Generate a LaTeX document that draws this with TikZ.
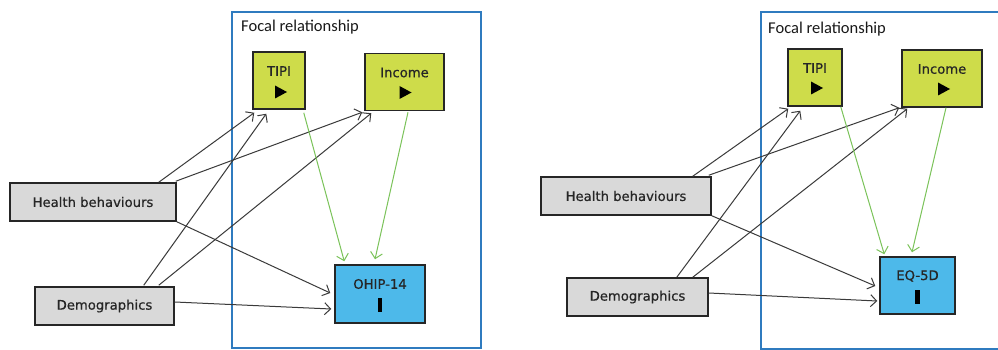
\documentclass[tikz,border=0pt]{standalone}
\usepackage{fontspec}
\setmainfont{DejaVu Sans}
\newfontfamily\titlefont{Carlito}
\newfontfamily\boxfont[FakeBold=0.6]{DejaVu Sans}
\usetikzlibrary{arrows.meta}
\definecolor{framecol}{HTML}{2F7BBF}
\definecolor{limefill}{HTML}{CEDC4A}
\definecolor{skyfill}{HTML}{4DB9EA}
\definecolor{greyfill}{HTML}{D9D9D9}
\definecolor{linkcol}{HTML}{3A3A3A}
\definecolor{focalcol}{HTML}{7BC35A}
\definecolor{labelcol}{HTML}{262626}
\tikzset{
  frame/.style={draw=framecol, line width=1.3pt, inner sep=0pt},
  framelabel/.style={anchor=west, inner sep=0pt, font=\titlefont\fontsize{16.5}{18}\selectfont, text=black!90},
  box/.style={draw=black!85, line width=1.5pt, inner sep=0pt},
  covar/.style={box, fill=greyfill, minimum height=38pt},
  expo/.style={box, fill=limefill, minimum height=57pt},
  outc/.style={box, fill=skyfill, minimum height=57pt},
  boxtext/.style={inner sep=0pt, text=labelcol, font=\boxfont\fontsize{13.2}{15}\selectfont},
  link/.style={draw=linkcol, line width=1pt, -{Straight Barb[length=6pt,width=12pt,line width=1pt]}},
  focallink/.style={draw=focalcol, line width=1pt, -{Straight Barb[length=6pt,width=12pt,line width=1pt]}},
  playmark/.style={fill=black},
}
\begin{document}
\begin{tikzpicture}[x=1pt,y=-1pt]
\clip (0,0) rectangle (998,350);
\fill[white] (0,0) rectangle (998,350);

% ---------------- left model: OHIP-14 ----------------
\node[frame, minimum width=249pt, minimum height=336pt] (fL) at (356.5,180) {};
\node[framelabel] (fLt) at (241,27) {Focal relationship};

\node[covar, minimum width=166pt] (hbL) at (93,202) {};
\node[boxtext] at (hbL.center) {Health behaviours};
\node[covar, minimum width=139pt] (dmL) at (104.5,306) {};
\node[boxtext] at (dmL.center) {Demographics};

\node[expo, minimum width=52pt] (tpL) at (279,80.5) {};
\node[boxtext] at ([yshift=9.5pt]tpL.center) {TIPI};
\fill[playmark] ([xshift=-4pt,yshift=-5pt]tpL.center) -- ++(12,6.5) -- ++(-12,6.5) -- cycle;
\node[expo, minimum width=79pt] (inL) at (404.5,82) {};
\node[boxtext] at ([yshift=9.5pt]inL.center) {Income};
\fill[playmark] ([xshift=-5pt,yshift=-4pt]inL.center) -- ++(12,6.5) -- ++(-12,6.5) -- cycle;

\node[outc, minimum width=90pt, minimum height=58pt] (ohL) at (380,294) {};
\node[boxtext] at ([yshift=10pt]ohL.center) {OHIP-14};
\fill[black] ([xshift=-2.2pt,yshift=-4pt]ohL.center) rectangle ++(4.5,14);

\draw[link] ([xshift=-18pt]hbL.north east) -- ([xshift=2pt,yshift=-3pt]tpL.south west);
\draw[link] ([xshift=-1pt,yshift=1pt]hbL.north east) -- ([xshift=-2pt,yshift=-1pt]inL.south west);
\draw[link] ([xshift=-31pt,yshift=1pt]dmL.north east) -- ([xshift=14pt,yshift=-4pt]tpL.south west);
\draw[link] ([xshift=-16pt,yshift=1pt]dmL.north east) -- ([xshift=7pt,yshift=-2pt]inL.south west);
\draw[link] (hbL.south east) -- ([xshift=-4pt,yshift=1pt]ohL.west);
\draw[link] ([yshift=4pt]dmL.east) -- ([xshift=-3pt,yshift=-15pt]ohL.west);
\draw[focallink] ([xshift=-2pt,yshift=-3pt]tpL.south east) -- ([xshift=10pt,yshift=3pt]ohL.north west);
\draw[focallink] ([xshift=3.5pt,yshift=-1pt]inL.south) -- ([xshift=-5pt,yshift=5pt]ohL.north);

% ---------------- right model: EQ-5D ----------------
\node[frame, minimum width=260pt, minimum height=337pt] (fR) at (891,180.5) {};
\node[framelabel] (fRt) at (768,29) {Focal relationship};

\node[covar, minimum width=170pt] (hbR) at (626,196) {};
\node[boxtext] at (hbR.center) {Health behaviours};
\node[covar, minimum width=141pt] (dmR) at (637.5,297) {};
\node[boxtext] at (dmR.center) {Demographics};

\node[expo, minimum width=54pt] (tpR) at (815,77.5) {};
\node[boxtext] at ([yshift=9.5pt]tpR.center) {TIPI};
\fill[playmark] ([xshift=-4pt,yshift=-4pt]tpR.center) -- ++(12,6.5) -- ++(-12,6.5) -- cycle;
\node[expo, minimum width=80pt] (inR) at (942,78.5) {};
\node[boxtext] at ([yshift=9.5pt]inR.center) {Income};
\fill[playmark] ([xshift=-4pt,yshift=-4pt]inR.center) -- ++(12,6.5) -- ++(-12,6.5) -- cycle;

\node[outc, minimum width=75pt] (eqR) at (917.5,285.5) {};
\node[boxtext] at ([yshift=9.5pt]eqR.center) {EQ-5D};
\fill[black] ([xshift=-2.2pt,yshift=-4pt]eqR.center) rectangle ++(4.5,14);

\draw[link] ([xshift=-19pt]hbR.north east) -- ([xshift=1pt,yshift=-2pt]tpR.south west);
\draw[link] ([xshift=-3pt,yshift=1pt]hbR.north east) -- ([xshift=-2pt]inR.south west);
\draw[link] ([xshift=-32pt]dmR.north east) -- ([xshift=13pt,yshift=-4pt]tpR.south west);
\draw[link] ([xshift=-16pt]dmR.north east) -- ([xshift=6pt,yshift=-1pt]inR.south west);
\draw[link] (hbR.south east) -- ([xshift=-4pt,yshift=-0.5pt]eqR.west);
\draw[link] ([yshift=4pt]dmR.east) -- ([xshift=-2pt,yshift=-15.5pt]eqR.west);
\draw[focallink] ([xshift=-2pt]tpR.south east) -- ([xshift=5pt,yshift=2pt]eqR.north west);
\draw[focallink] ([xshift=4pt]inR.south) -- ([xshift=-5.5pt,yshift=4pt]eqR.north);
\end{tikzpicture}
\end{document}
